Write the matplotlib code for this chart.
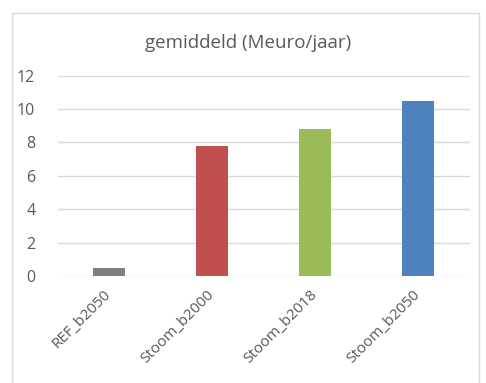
import matplotlib.pyplot as plt
from matplotlib.patches import Rectangle

categories = ['REF_b2050', 'Stoom_b2000', 'Stoom_b2018', 'Stoom_b2050']
values = [0.48, 7.78, 8.82, 10.46]
colors = ['#7f7f7f', '#c0504d', '#9bbb59', '#4f81bd']

plt.rcParams['font.family'] = ['Open Sans', 'DejaVu Sans']
txt = '#595959'

fig = plt.figure(figsize=(4.86, 3.83), dpi=100)
fig.patches.append(Rectangle((12/486, -0.01), 467/486, 1 - 13/383 + 0.01,
                             transform=fig.transFigure, fill=False,
                             edgecolor='#d9d9d9', linewidth=1))

ax = fig.add_axes([57.5/486, 107/383, 412/486, 200.4/383])
ax.bar(range(len(categories)), values, width=0.32, color=colors)
ax.set_xlim(-0.5, 3.5)
ax.set_ylim(0, 12)
ax.set_yticks(range(0, 13, 2))
ax.yaxis.grid(True, color='#d9d9d9', linewidth=1)
ax.set_axisbelow(True)
for s in ax.spines.values():
    s.set_visible(False)
ax.tick_params(length=0, colors=txt, labelsize=11)
ax.tick_params(axis='x', pad=12)
ax.tick_params(axis='y', labelsize=11.5, pad=16)
ax.set_xticks(range(len(categories)))
ax.set_xticklabels(categories, rotation=45, ha='right', va='center',
                   rotation_mode='anchor')

fig.text(248/486, 1 - 43/383, 'gemiddeld (Meuro/jaar)', ha='center', va='center',
         fontsize=13.5, color=txt)

fig.savefig('out.png', dpi=100)
